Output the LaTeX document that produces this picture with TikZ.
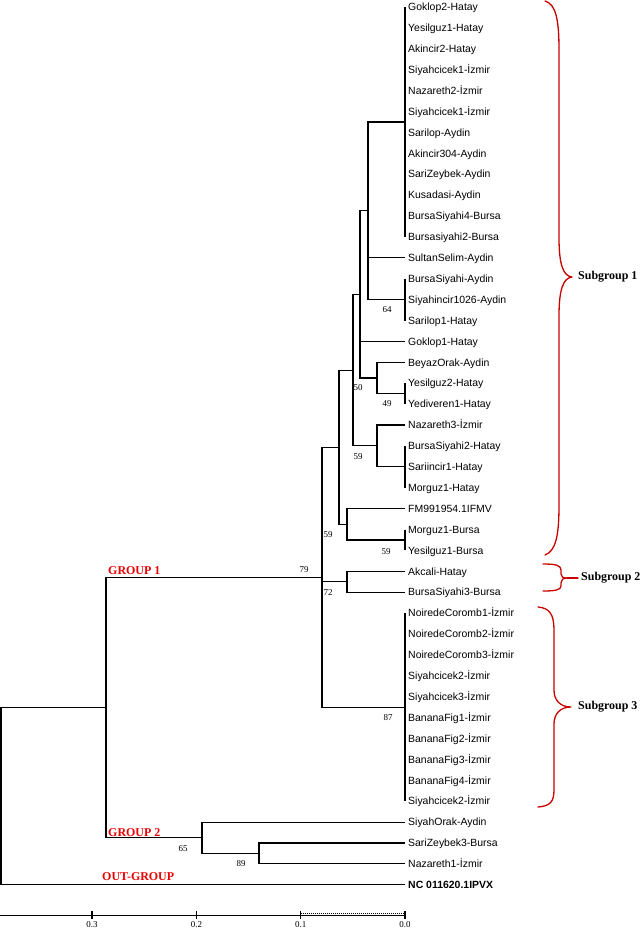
\documentclass[tikz,border=0pt]{standalone}
\usepackage{fontspec}
\setmainfont{Liberation Sans}
\newfontfamily\serifx{Liberation Serif}
\definecolor{grpred}{RGB}{235,0,0}
\definecolor{bracered}{RGB}{200,0,0}
\begin{document}
\begin{tikzpicture}[x=1bp,y=-1bp,
  br/.style={line width=1.1bp, line join=miter},
  leaf/.style={anchor=west, inner xsep=3bp, inner ysep=0pt, text height=7.5bp, text depth=0pt, font=\fontsize{10.5}{12}\selectfont},
  bs/.style={font=\serifx\fontsize{9}{10}\selectfont, inner sep=0pt},
  grp/.style={font=\serifx\bfseries\fontsize{12}{14}\selectfont, text=grpred, inner sep=0pt, anchor=west},
  sub/.style={font=\serifx\bfseries\fontsize{12}{14}\selectfont, inner sep=0pt, anchor=west},
  brace/.style={draw=bracered, line width=1.3bp, line cap=round, line join=round},
  axl/.style={font=\serifx\fontsize{9}{10}\selectfont, inner sep=0pt}
]
\useasboundingbox (0,0) rectangle (642,929);
% leaves
\foreach \nm [count=\i] in {Goklop2-Hatay,Yesilguz1-Hatay,Akincir2-Hatay,Siyahcicek1-İzmir,Nazareth2-İzmir,Siyahcicek1-İzmir,Sarilop-Aydin,Akincir304-Aydin,SariZeybek-Aydin,Kusadasi-Aydin,BursaSiyahi4-Bursa,Bursasiyahi2-Bursa,SultanSelim-Aydin,BursaSiyahi-Aydin,Siyahincir1026-Aydin,Sarilop1-Hatay,Goklop1-Hatay,BeyazOrak-Aydin,Yesilguz2-Hatay,Yediveren1-Hatay,Nazareth3-İzmir,BursaSiyahi2-Hatay,Sariincir1-Hatay,Morguz1-Hatay,FM991954.1IFMV,Morguz1-Bursa,Yesilguz1-Bursa,Akcali-Hatay,BursaSiyahi3-Bursa,NoiredeCoromb1-İzmir,NoiredeCoromb2-İzmir,NoiredeCoromb3-İzmir,Siyahcicek2-İzmir,Siyahcicek3-İzmir,BananaFig1-İzmir,BananaFig2-İzmir,BananaFig3-İzmir,BananaFig4-İzmir,Siyahcicek2-İzmir,SiyahOrak-Aydin,SariZeybek3-Bursa,Nazareth1-İzmir}{
  \pgfmathsetmacro\yy{7+(\i-1)*20.9}
  \node[leaf] (l\i) at (405,\yy) {\nm};
}
\node[leaf, font=\fontsize{10.5}{12}\selectfont\bfseries] (l43) at (405,884.8) {NC 011620.1IPVX};
% cluster points (zero-length branches)
\coordinate (cA) at (405,121.95);
\coordinate (cB) at (405,299.6);
\coordinate (cC) at (405,393.65);
\coordinate (cD) at (405,466.8);
\coordinate (cE) at (405,539.95);
\coordinate (cF) at (405,707.15);
% internal nodes
\coordinate (N1) at (368,210.8);
\coordinate (N3) at (377,378);
\coordinate (N2) at (360,294.4);
\coordinate (N5) at (377,445.9);
\coordinate (N4) at (353,370.1);
\coordinate (N10) at (347,524.3);
\coordinate (N6) at (339,447.2);
\coordinate (N8) at (347,581.75);
\coordinate (N7) at (322,577.2);
\coordinate (N11) at (259,853.45);
\coordinate (N12) at (202,837.8);
\coordinate (N9) at (106,707.5);
\coordinate (R) at (1,796);
% zero-length clusters
\draw[br] (l1.west) -- (l12.west);
\draw[br] (l14.west) -- (l16.west);
\draw[br] (l19.west) -- (l20.west);
\draw[br] (l22.west) -- (l24.west);
\draw[br] (l26.west) -- (l27.west);
\draw[br] (l30.west) -- (l39.west);
% branches
\draw[br] (cA) -| (N1);
\draw[br] (l13.west) -| (N1);
\draw[br] (cB) -| (N1);
\draw[br] (l18.west) -| (N3);
\draw[br] (cC) -| (N3);
\draw[br] (N1) -| (N2);
\draw[br] (l17.west) -| (N2);
\draw[br] (N3) -| (N2);
\draw[br] (l21.west) -| (N5);
\draw[br] (cD) -| (N5);
\draw[br] (N2) -| (N4);
\draw[br] (N5) -| (N4);
\draw[br] (l25.west) -| (N10);
\draw[br] (cE) -| (N10);
\draw[br] (N4) -| (N6);
\draw[br] (N10) -| (N6);
\draw[br] (l28.west) -| (N8);
\draw[br] (l29.west) -| (N8);
\draw[br] (N6) -| (N7);
\draw[br] (N8) -| (N7);
\draw[br] (cF) -| (N7);
\draw[br] (l41.west) -| (N11);
\draw[br] (l42.west) -| (N11);
\draw[br] (l40.west) -| (N12);
\draw[br] (N11) -| (N12);
\draw[br] (N7) -| (N9);
\draw[br] (N12) -| (N9);
\draw[br] (N9) -| (R);
\draw[br] (l43.west) -| (R);
% bootstrap values
\node[bs] (b64) at (387,310) {64};
\node[bs] (b50) at (358,388) {50};
\node[bs] (b49) at (387,404) {49};
\node[bs] (b59a) at (358,457) {59};
\node[bs] (b59b) at (328,535) {59};
\node[bs] (b59c) at (386,552) {59};
\node[bs] (b79) at (304,570) {79};
\node[bs] (b72) at (328,593) {72};
\node[bs] (b87) at (388,718) {87};
\node[bs] (b65) at (183,849) {65};
\node[bs] (b89) at (241,864) {89};
% group labels
\node[grp] (g1) at (108,571) {GROUP 1};
\node[grp] (g2) at (108,833) {GROUP 2};
\node[grp] (g3) at (102,877) {OUT-GROUP};
% braces
\draw[brace] (545,1) .. controls (556,4) and (559,20) .. (559,50) -- (559,238)
  .. controls (559,264) and (563,276) .. (572,277)
  .. controls (563,278) and (559,290) .. (559,316) -- (559,505)
  .. controls (559,535) and (556,551) .. (545,555);
\draw[brace] (543,564) .. controls (555,564) and (561,565) .. (561,570) -- (561,574)
  .. controls (561,577) and (563,578) .. (567,578)
  .. controls (563,578) and (561,580) .. (561,583) -- (561,586)
  .. controls (561,590) and (555,591) .. (543,591);
\draw[brace] (567,578) -- (578,578);
\draw[brace] (538,607) .. controls (550,608) and (554,615) .. (554,630) -- (554,690)
  .. controls (554,700) and (560,707) .. (571,707)
  .. controls (560,707) and (554,714) .. (554,724) -- (554,790)
  .. controls (554,802) and (550,806) .. (538,807);
\node[sub] (s1) at (578,277) {Subgroup 1};
\node[sub] (s2) at (581,578) {Subgroup 2};
\node[sub] (s3) at (578,707) {Subgroup 3};
% scale axis
\coordinate (ax0) at (0,915);
\coordinate (ax4) at (405,915);
\draw[line width=1bp] (ax0) -- (ax4);
\draw[line width=0.5bp, dash pattern=on 1bp off 1bp] (301,913) -- (405,913);
\foreach \xx/\lb in {92/0.3,196.4/0.2,300.7/0.1,405/0.0}{
  \draw[line width=1.1bp] (\xx,911) -- (\xx,919);
  \node[axl, anchor=north] at (\xx,921) {\lb};
}
\end{tikzpicture}
\end{document}
